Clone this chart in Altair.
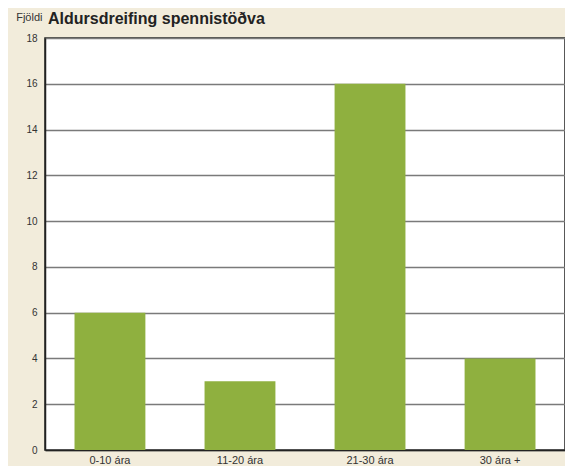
import altair as alt
import pandas as pd

title_text = ["Aldursdreifing spennistöðva"]
categories = ["0-10 ára", "11-20 ára", "21-30 ára", "30 ára +"]
values = [6, 3, 16, 4]
y_ticks = [0, 2, 4, 6, 8, 10, 12, 14, 16, 18]

df = pd.DataFrame({"flokkur": categories, "fjoldi": values})
df_title = pd.DataFrame({"t": title_text})

FONT = "Liberation Sans"
BG = "#f2ecdb"

bars = alt.Chart(df).mark_bar(color="#8fb03f").encode(
    x=alt.X(
        "flokkur:N",
        sort=categories,
        scale=alt.Scale(paddingInner=0.455, paddingOuter=0.227),
        axis=alt.Axis(
            title=None, labelAngle=0, ticks=False, domainColor="#222222",
            domainWidth=1.5, labelFont=FONT, labelFontSize=11,
            labelColor="#333333", labelPadding=4,
        ),
    ),
    y=alt.Y(
        "fjoldi:Q",
        scale=alt.Scale(domain=[0, 18], nice=False),
        axis=alt.Axis(
            title="Fjöldi", titleAngle=0, titleAlign="right", titleAnchor="end",
            titleX=-3, titleY=-16, titleFont=FONT, titleFontSize=11,
            titleFontWeight="normal", titleColor="#333333",
            values=y_ticks, ticks=False, domainColor="#222222", domainWidth=1.5,
            labelFont=FONT, labelFontSize=10, labelColor="#333333",
            labelPadding=8, gridColor="#7a7a7a", gridWidth=1.4,
        ),
    ),
)

title = alt.Chart(df_title).mark_text(
    align="left", baseline="alphabetic", font=FONT, fontSize=16,
    fontWeight="bold", color="#222222",
).encode(x=alt.value(3), y=alt.value(-14), text="t:N")

chart = alt.layer(bars, title).properties(
    width=520,
    height=412,
    background=BG,
    autosize=alt.AutoSizeParams(type="none"),
    padding={"left": 37, "top": 30, "right": 0, "bottom": 16},
).configure_view(fill="white", stroke="#222222", strokeWidth=1.5)

chart.save("out.html", embed_options={"renderer": "svg", "actions": False})
